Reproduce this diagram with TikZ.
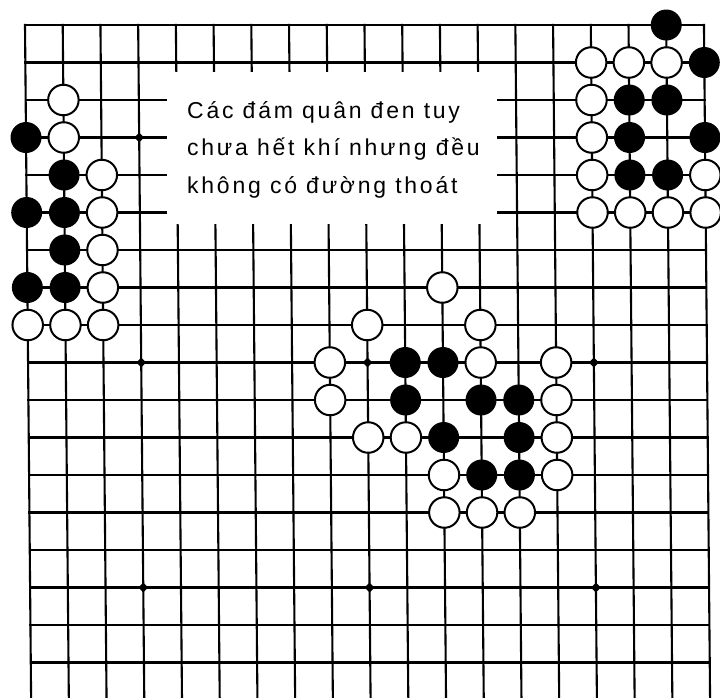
\documentclass[tikz,border=0pt]{standalone}
\usepackage{fontspec}
\newfontfamily\capfont{Liberation Sans}[LetterSpace=12]
\usetikzlibrary{shapes.geometric}
\begin{document}
\begin{tikzpicture}[
  gridline/.style={line width=2.1pt, line cap=rect},
  wstone/.style={circle, draw=black, fill=white, line width=2pt, minimum size=30.5pt, inner sep=0pt},
  bstone/.style={circle, fill=black, minimum size=31pt, inner sep=0pt},
  starpt/.style={diamond, fill=black, minimum size=10pt, inner sep=0pt},
  caption/.style={anchor=base west, inner sep=0pt, font=\capfont\fontsize{23}{28}\selectfont}
]
\useasboundingbox (0pt,0pt) rectangle (720pt,-697pt);
\fill[white] (0pt,0pt) rectangle (720pt,-697pt);
\begin{scope}
\clip (0pt,0pt) rectangle (720pt,-697pt);
\begin{scope}[shift={(25pt,-25pt)}, x={(37.72pt,0pt)}, y={(0.34pt,-37.5pt)}]
  \foreach \c in {0,...,18} \draw[gridline] (\c,0) -- (\c,18.5);
  \foreach \r in {0,...,17} \draw[gridline] (0,\r) -- (18,\r);
  \foreach \c/\r in {3/3,3/9,3/15,9/9,9/15,15/9,15/15}
    \node[starpt] (s\c-\r) at (\c,\r) {};
\end{scope}
\node[fill=white, inner sep=0pt, minimum width=330pt, minimum height=152pt, anchor=north west] (box) at (167pt,-72pt) {};
\node[caption] (l1) at (187pt,-118pt) {Các đám quân đen tuy};
\node[caption] (l2) at (187pt,-155.5pt) {chưa hết khí nhưng đều};
\node[caption] (l3) at (187pt,-193pt) {không có đường thoát};
\begin{scope}[shift={(25pt,-25pt)}, x={(37.72pt,0pt)}, y={(0.34pt,-37.5pt)}]
  \foreach \c/\r in {1/2,1/3,2/4,2/5,2/6,2/7,0/8,1/8,2/8,
                     15/1,16/1,17/1,15/2,15/3,15/4,18/4,15/5,16/5,17/5,18/5,
                     11/7,9/8,12/8,8/9,12/9,14/9,8/10,14/10,9/11,10/11,14/11,11/12,14/12,11/13,12/13,13/13}
    \node[wstone] (w\c-\r) at (\c,\r) {};
  \foreach \c/\r in {0/3,1/4,0/5,1/5,1/6,0/7,1/7,
                     17/0,18/1,16/2,17/2,16/3,18/3,16/4,17/4,
                     10/9,11/9,10/10,12/10,13/10,11/11,13/11,12/12,13/12}
    \node[bstone] (b\c-\r) at (\c,\r) {};
\end{scope}
\end{scope}
\end{tikzpicture}
\end{document}
